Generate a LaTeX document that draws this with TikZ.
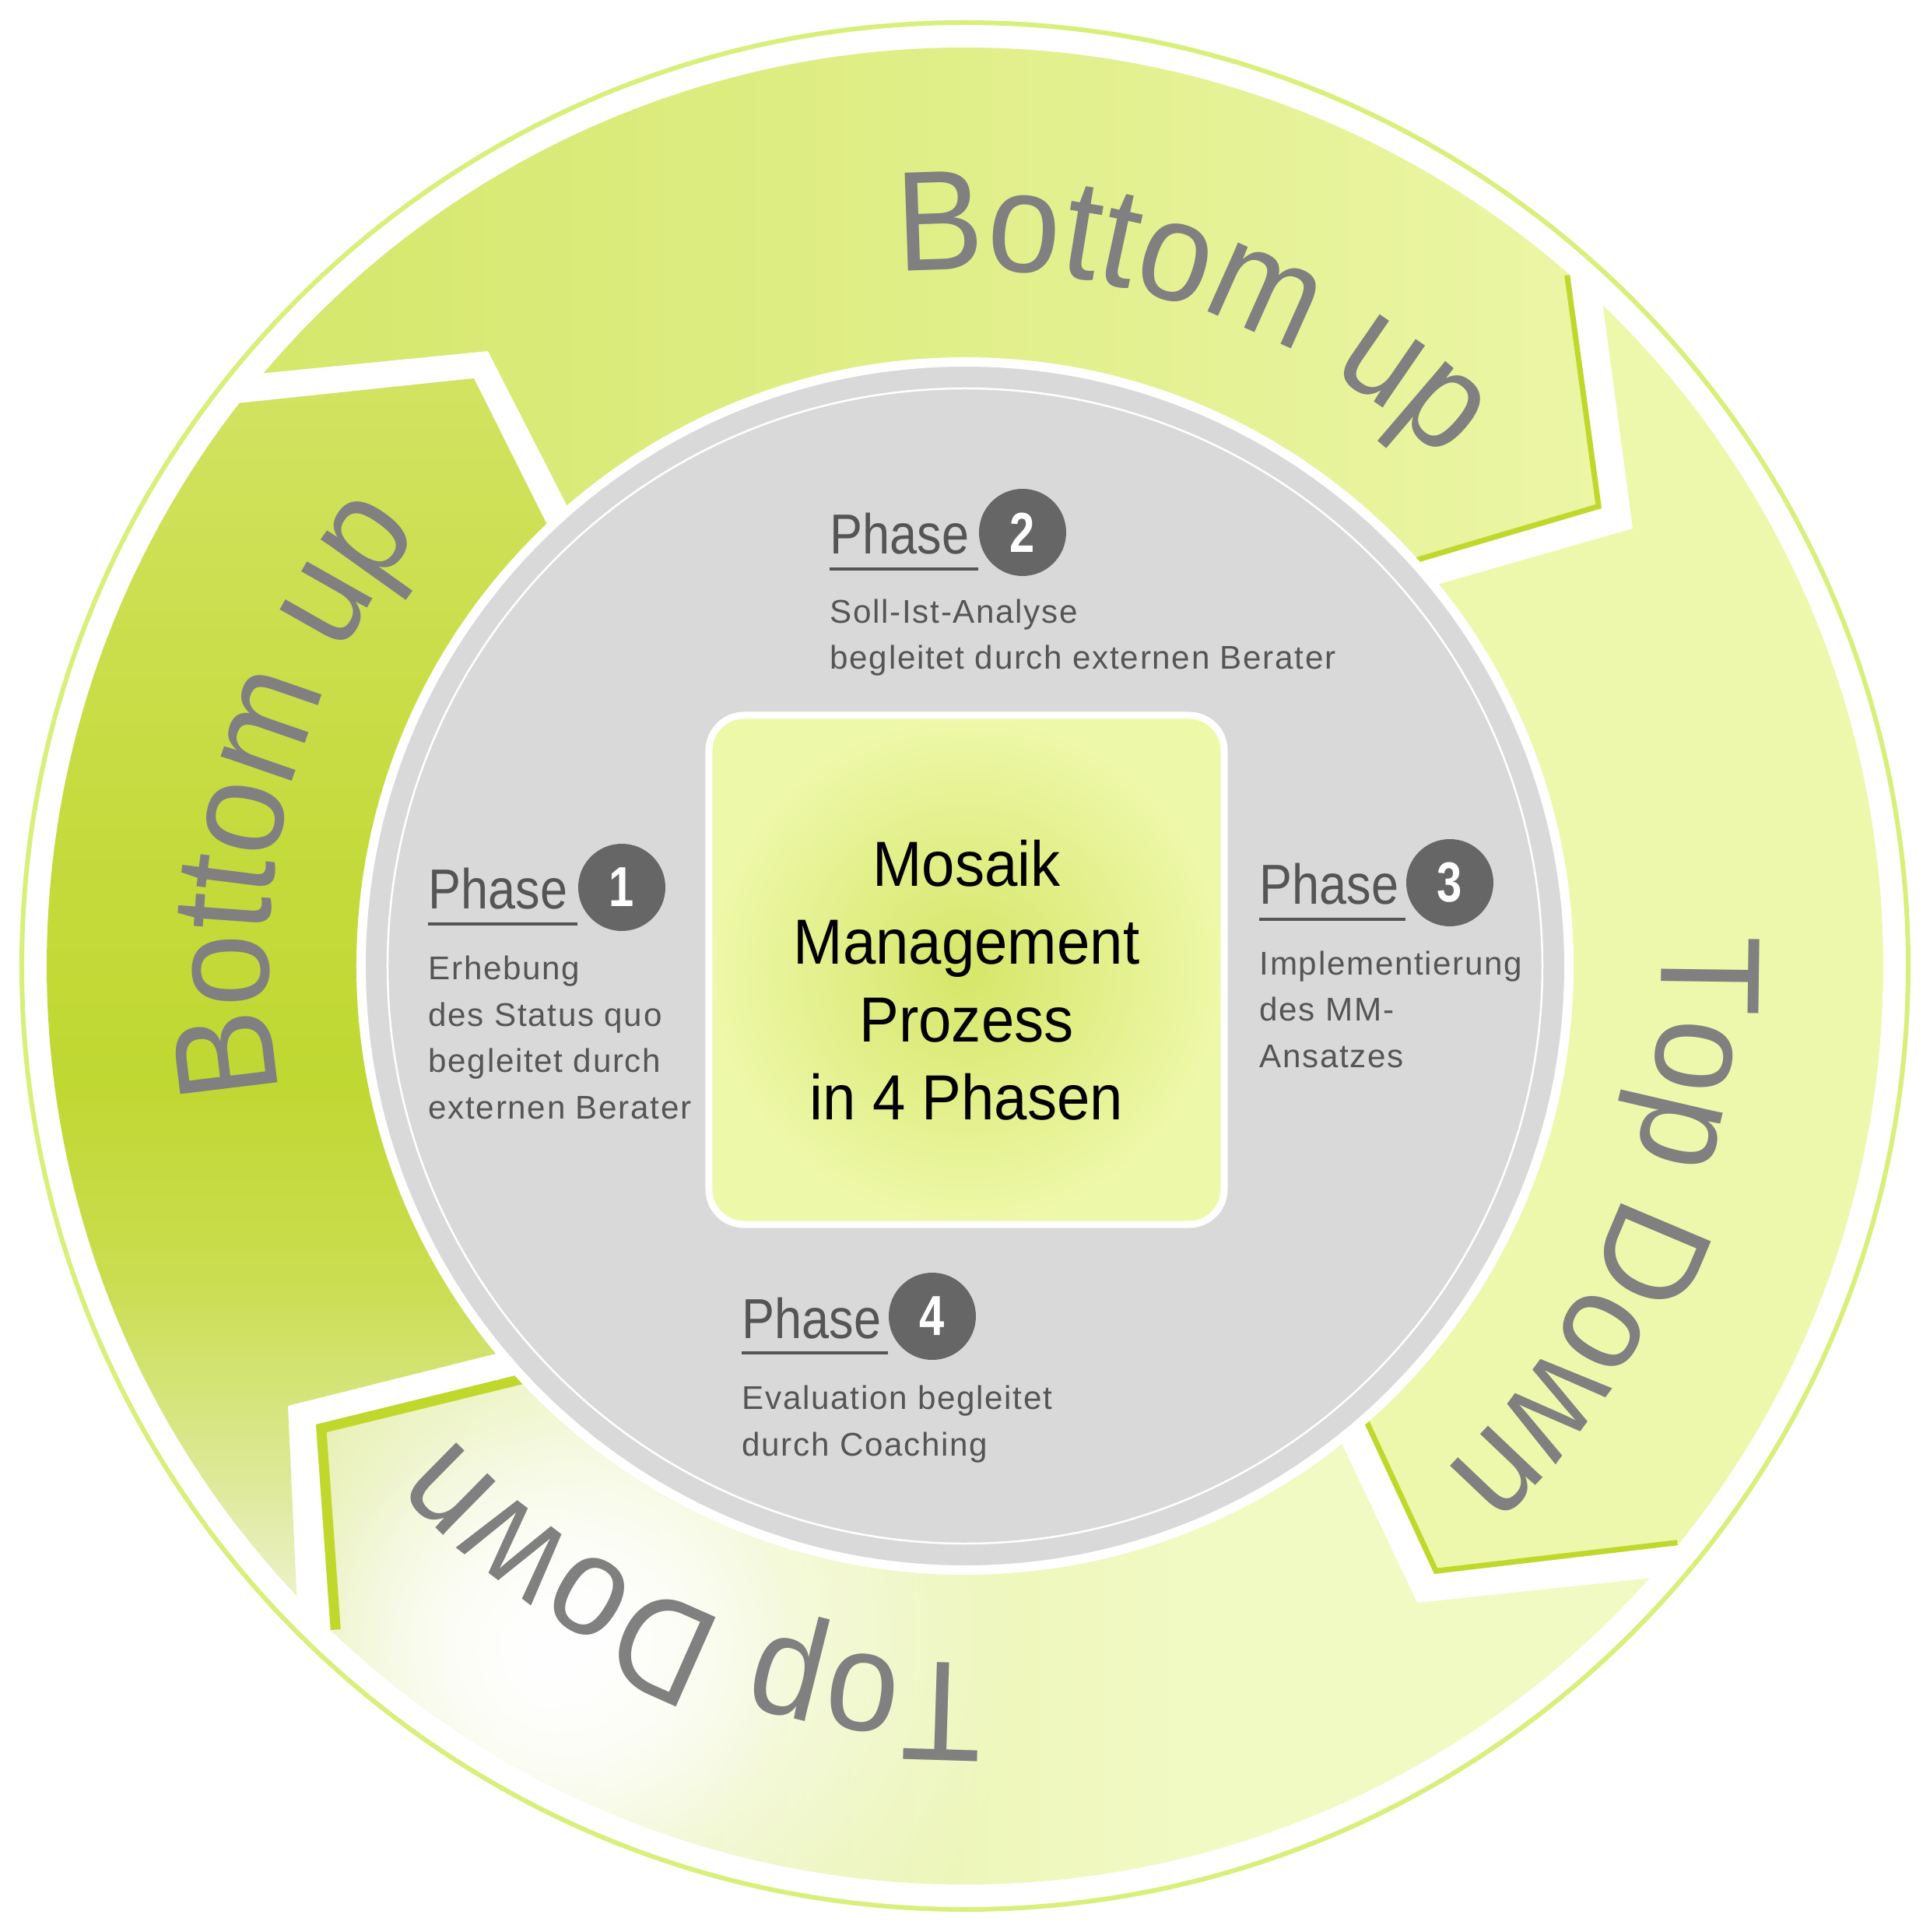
\documentclass[tikz,border=0pt]{standalone}
\usepackage{fontspec}
\setmainfont{Liberation Sans}
\newfontfamily\arcfont[FakeStretch=0.92]{Liberation Sans}
\newfontfamily\corefont[FakeStretch=0.93]{Liberation Sans}
\newfontfamily\phasefont[FakeStretch=0.87]{Liberation Sans}
\newfontfamily\descfont[LetterSpace=4]{Liberation Sans}
\newfontfamily\numfont[FakeStretch=0.8]{Liberation Sans}
\usetikzlibrary{calc,decorations.text,fadings}
\definecolor{ringGreen}{RGB}{216,239,122}
\definecolor{edgeGreen}{RGB}{192,216,44}
\definecolor{topLeft}{RGB}{213,231,107}
\definecolor{topRight}{RGB}{236,246,166}
\definecolor{rightFill}{RGB}{238,248,172}
\definecolor{botLeft}{RGB}{225,236,160}
\definecolor{botRight}{RGB}{242,250,196}
\definecolor{leftA}{RGB}{236,241,200}
\definecolor{leftB}{RGB}{221,233,150}
\definecolor{leftC}{RGB}{202,221,80}
\definecolor{leftD}{RGB}{192,216,50}
\definecolor{leftE}{RGB}{197,219,62}
\definecolor{leftF}{RGB}{210,227,98}
\definecolor{diskGray}{RGB}{217,217,217}
\definecolor{numGray}{RGB}{102,102,102}
\definecolor{phaseGray}{RGB}{85,85,85}
\definecolor{arcGray}{RGB}{128,128,128}
\definecolor{squareLight}{RGB}{238,248,169}
\definecolor{squareDark}{RGB}{213,230,104}
\tikzfading[name=whitespot,inner color=transparent!0,outer color=transparent!100]
\pgfdeclareverticalshading{leftband}{100bp}{color(0bp)=(leftA); color(25bp)=(leftA); color(30bp)=(leftB); color(38bp)=(leftC); color(46bp)=(leftD); color(57bp)=(leftE); color(75bp)=(leftF); color(100bp)=(leftF)}

\begin{document}
\begin{tikzpicture}[
    ringline/.style={draw=ringGreen,line width=0.06cm},
    headedge/.style={draw=edgeGreen,line width=#1,line join=miter},
    headedge/.default=0.14cm,
    arclabel/.style={decorate,decoration={text along path,text align=center,text color=arcGray,
        text={|\arcfont\fontsize{52}{60}\selectfont|#1}}},
    phasetitle/.style={anchor=base west,inner sep=0pt,text=phaseGray,font=\phasefont\fontsize{20.6}{24}\selectfont},
    phasenum/.style={circle,fill=numGray,text=white,minimum size=1.12cm,inner sep=0pt,font=\numfont\bfseries\fontsize{20.6}{24}\selectfont},
    phasedesc/.style={anchor=base west,inner sep=0pt,align=left,text=phaseGray,font=\descfont\fontsize{12}{16.9}\selectfont},
    underline/.style={draw=phaseGray,line width=0.045cm},
    corebox/.style={rounded corners=0.45cm,minimum width=6.62cm,minimum height=6.54cm,draw=white,line width=0.09cm,inner color=squareDark,outer color=squareLight},
    coretext/.style={align=center,font=\corefont\fontsize{23.3}{28.5}\selectfont}
  ]
  \fill[white] (-12.40,-12.41) rectangle (12.40,12.41);
  \useasboundingbox (-12.40,-12.41) rectangle (12.40,12.41);

  % outer ring
  \draw[ringline] (0,0) circle (12.12);

  % top arrow: Bottom up
  \coordinate (tTO) at (139.8:11.8);
  \coordinate (tHO) at (48.8:11.8);
  \coordinate (tHT) at (8.18,5.88);
  \coordinate (tHI) at (5.16,4.99);
  \coordinate (tTI) at (-4.83,5.36);
  \coordinate (tTN) at (-6.13,7.90);
  \begin{scope}
    \clip (tTO) arc[start angle=139.8,end angle=48.8,radius=11.8] -- (tHT) -- (tHI) -- (tTI) -- (tTN) -- cycle;
    \shade[left color=topLeft,right color=topRight] (-9.1,4.8) rectangle (8.3,11.9);
    \draw[headedge] (tHO) -- (tHT) -- (tHI);
  \end{scope}

  % right arrow: Top Down
  \coordinate (rTO) at (46.0:11.8);
  \coordinate (rHO) at (-39.1:11.8);
  \coordinate (rHT) at (6.03,-7.81);
  \coordinate (rHI) at (4.87,-5.31);
  \coordinate (rTI) at (5.37,4.70);
  \coordinate (rTN) at (8.58,5.62);
  \begin{scope}
    \clip (rTO) arc[start angle=46,end angle=-39.1,radius=11.8] -- (rHT) -- (rHI) -- (rTI) -- (rTN) -- cycle;
    \fill[rightFill] (4,-9.5) rectangle (12,9.5);
    \draw[headedge] (rHO) -- (rHT) -- (rHI);
  \end{scope}

  % bottom arrow: Top Down
  \coordinate (bTO) at (-41.8:11.8);
  \coordinate (bHO) at (-133.7:11.8);
  \coordinate (bHT) at (-8.34,-5.89);
  \coordinate (bHI) at (-5.00,-5.07);
  \coordinate (bTI) at (4.55,-5.52);
  \coordinate (bTN) at (5.81,-8.18);
  \begin{scope}
    \clip (bTO) arc[start angle=-41.8,end angle=-133.7,radius=11.8] -- (bHT) -- (bHI) -- (bTI) -- (bTN) -- cycle;
    \shade[left color=botLeft,right color=botRight] (-8.4,-11.9) rectangle (3.0,-4.9);
    \fill[botRight] (2.95,-11.9) rectangle (8.8,-4.9);
    \fill[white,path fading=whitespot] (-4.9,-8.6) circle (5.6);
    \fill[white,path fading=whitespot] (-5.4,-8.9) circle (3.2);
    \draw[headedge=0.26cm] (bHO) -- (bHT) -- (bHI);
  \end{scope}

  % left arrow: Bottom up
  \coordinate (lTO) at (223.3:11.8);
  \coordinate (lHO) at (142.2:11.8);
  \coordinate (lHT) at (-6.31,7.55);
  \coordinate (lHI) at (-5.11,5.15);
  \coordinate (lTI) at (-5.23,-4.78);
  \coordinate (lTN) at (-8.70,-5.65);
  \begin{scope}
    \clip (lTO) arc[start angle=223.3,end angle=142.2,radius=11.8] -- (lHT) -- (lHI) -- (lTI) -- (lTN) -- cycle;
    \shade[shading=leftband] (-11.9,-8.1) rectangle (-5.0,7.6);
  \end{scope}

  % curved labels
  \path[arclabel=Bottom up] (111:8.95) arc[start angle=111,end angle=31,radius=8.95];
  \path[arclabel=Top Down] (18:8.95) arc[start angle=18,end angle=-62,radius=8.95];
  \path[arclabel=Top Down] (287:8.95) arc[start angle=287,end angle=207,radius=8.95];
  \path[arclabel=Bottom up] (206:8.95) arc[start angle=206,end angle=126,radius=8.95];

  % grey disc
  \draw[white,line width=0.12cm,fill=diskGray] (0,0) circle (7.76);
  \draw[white,line width=0.025cm] (0,0) circle (7.42);

  % centre
  \node[corebox] (core) at (0.02,-0.05) {};
  \node[coretext] (coretitle) at ([yshift=-0.13cm]core.center) {Mosaik\\Management\\Prozess\\in 4 Phasen};

  % phase 1
  \node[phasetitle] (p1title) at (-6.90,0.73) {Phase};
  \node[phasenum] (p1num) at (-4.41,1.01) {1};
  \node[phasedesc] (p1desc) at (-6.90,-1.96) {Erhebung\\des Status quo\\begleitet durch\\externen Berater};
  \draw[underline] ($(p1title.base west)+(0,-0.19)$) -- ($(p1title.base west -| p1num.west)+(0,-0.19)$);

  % phase 2
  \node[phasetitle] (p2title) at (-1.74,5.29) {Phase};
  \node[phasenum] (p2num) at (0.74,5.57) {2};
  \node[phasedesc] (p2desc) at (-1.74,3.81) {Soll-Ist-Analyse\\begleitet durch externen Berater};
  \draw[underline] ($(p2title.base west)+(0,-0.19)$) -- ($(p2title.base west -| p2num.west)+(0,-0.19)$);

  % phase 3
  \node[phasetitle] (p3title) at (3.78,0.79) {Phase};
  \node[phasenum] (p3num) at (6.23,1.07) {3};
  \node[phasedesc] (p3desc) at (3.78,-1.30) {Implementierung\\des MM-\\Ansatzes};
  \draw[underline] ($(p3title.base west)+(0,-0.19)$) -- ($(p3title.base west -| p3num.west)+(0,-0.19)$);

  % phase 4
  \node[phasetitle] (p4title) at (-2.87,-4.78) {Phase};
  \node[phasenum] (p4num) at (-0.42,-4.50) {4};
  \node[phasedesc] (p4desc) at (-2.87,-6.29) {Evaluation begleitet\\durch Coaching};
  \draw[underline] ($(p4title.base west)+(0,-0.19)$) -- ($(p4title.base west -| p4num.west)+(0,-0.19)$);
\end{tikzpicture}
\end{document}
